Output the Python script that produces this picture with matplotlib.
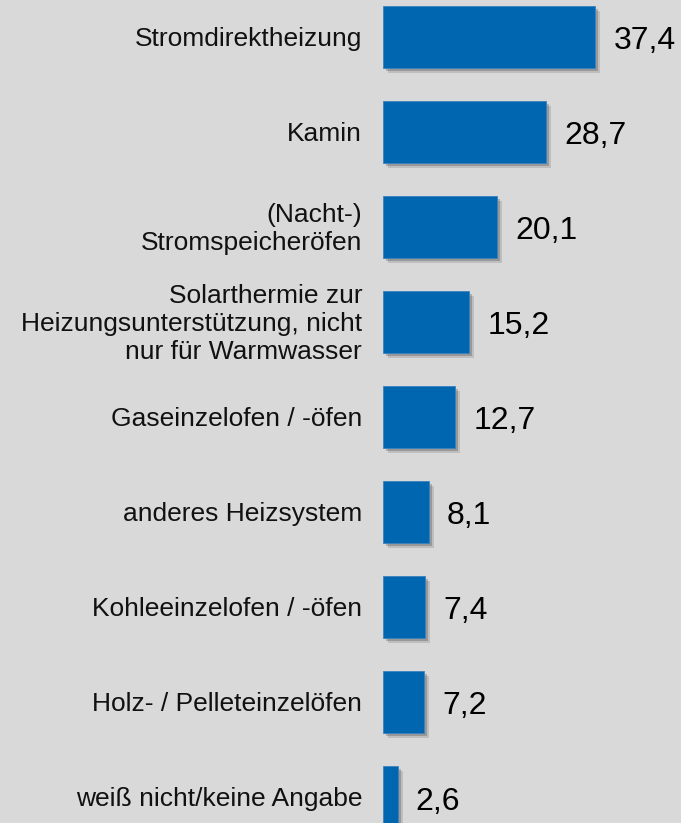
import matplotlib.pyplot as plt
import matplotlib.patheffects as pe

categories = [
    "Stromdirektheizung",
    "Kamin",
    "(Nacht-)\nStromspeicheröfen",
    "Solarthermie zur\nHeizungsunterstützung, nicht\nnur für Warmwasser",
    "Gaseinzelofen / -öfen",
    "anderes Heizsystem",
    "Kohleeinzelofen / -öfen",
    "Holz- / Pelleteinzelöfen",
    "weiß nicht/keine Angabe",
]
values = [37.4, 28.7, 20.1, 15.2, 12.7, 8.1, 7.4, 7.2, 2.6]

bg = "#d9d9d9"
bar_color = "#0066b0"

plt.rcParams["font.family"] = ["Liberation Sans", "DejaVu Sans"]

fig = plt.figure(figsize=(6.81, 8.23), dpi=100, facecolor=bg)
ax = fig.add_axes([0, 0, 1, 1])
ax.set_facecolor(bg)

pos = list(range(len(values)))
bars = ax.barh(pos, values, height=0.65, color=bar_color,
               edgecolor="#3a82c0", linewidth=0.6, zorder=3)
for b in bars:
    b.set_path_effects([
        pe.SimplePatchShadow(offset=(3.5, -3.5), shadow_rgbFace="black", alpha=0.12),
        pe.SimplePatchShadow(offset=(2, -2), shadow_rgbFace="black", alpha=0.2),
        pe.Normal(),
    ])

for p, v, name in zip(pos, values, categories):
    ax.annotate(f"{v:.1f}".replace(".", ","), (v, p), xytext=(13, -3),
                textcoords="offset points", va="center", ha="left",
                fontsize=23, color="black")
    ax.annotate(name, (0, p), xytext=(-15, -1.5), textcoords="offset points",
                va="center", ha="right", ma="right", fontsize=19,
                color="#111111", linespacing=1.2)

# axes span the whole figure; bars start at x = 383 px
ax.set_xlim(-67.5, 52.5)
ax.set_ylim(8.27, -0.39)
ax.axis("off")

fig.savefig("out.png", dpi=100, facecolor=bg)
